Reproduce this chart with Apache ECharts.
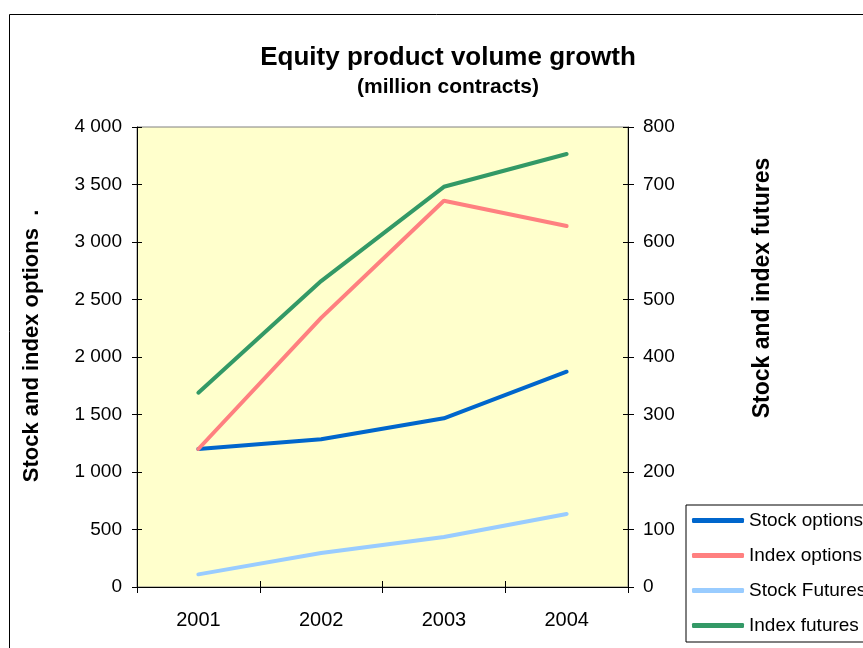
<!DOCTYPE html>
<html>
<head>
<meta charset="utf-8">
<script src="https://cdn.jsdelivr.net/npm/echarts@6/dist/echarts.min.js"></script>
<style>
  html, body { margin: 0; padding: 0; background: #fff; }
  #chart { width: 863px; height: 648px; }
</style>
</head>
<body>
<div id="chart"></div>
<script>
// values
const years = ['2001', '2002', '2003', '2004']
const stockOptions = [1200, 1284, 1467, 1872]
const indexOptions = [1200, 2340, 3359, 3139]
const stockFutures = [22, 59, 87, 127]
const indexFutures = [338, 532, 696, 753]

const fmt = (v) => String(v).replace(/\B(?=(\d{3})+(?!\d))/g, ' ')
const font = 'Liberation Sans, Arial, sans-serif'

const chart = echarts.init(document.getElementById('chart'))

const line = (name, color, data, yAxisIndex) => ({
  name,
  type: 'line',
  yAxisIndex,
  data,
  symbol: 'none',
  lineStyle: { color, width: 4, cap: 'round' },
  itemStyle: { color },
  z: 3
})

// second copy of an axis, only to draw the inner half of the ticks
const tickAxis = (max, interval, position) => ({
  type: 'value',
  min: 0,
  max,
  interval,
  position,
  axisLine: { show: false },
  axisTick: { show: true, inside: true, length: 5, lineStyle: { color: '#000' } },
  axisLabel: { show: false },
  splitLine: { show: false }
})

chart.setOption({
  animation: false,
  backgroundColor: '#fff',
  textStyle: { fontFamily: font },
  title: {
    text: 'Equity product volume growth',
    subtext: '(million contracts)',
    left: 443,
    textAlign: 'center',
    top: 40,
    itemGap: 6,
    textStyle: { fontFamily: font, fontWeight: 'bold', fontSize: 26, color: '#000' },
    subtextStyle: { fontFamily: font, fontWeight: 'bold', fontSize: 21, color: '#000' }
  },
  grid: {
    left: 137,
    top: 127,
    width: 491,
    height: 460,
    show: true,
    backgroundColor: '#ffffcc',
    borderColor: '#808080',
    borderWidth: 1
  },
  legend: {
    left: 686,
    top: 505,
    orient: 'vertical',
    borderColor: '#000',
    borderWidth: 1,
    padding: [6, 40, 7, 6],
    itemGap: 16,
    itemWidth: 52,
    itemHeight: 5,
    icon: 'roundRect',
    textStyle: { fontFamily: font, fontSize: 19, color: '#000' },
    data: ['Stock options', 'Index options', 'Stock Futures', 'Index futures']
  },
  xAxis: [{
    type: 'category',
    data: years,
    boundaryGap: true,
    axisLine: { lineStyle: { color: '#000', width: 1 } },
    axisTick: { show: true, length: 6, lineStyle: { color: '#000' } },
    axisLabel: { margin: 23, fontSize: 20, color: '#000', fontFamily: font },
    splitLine: { show: false }
  }, {
    type: 'category',
    data: years,
    position: 'bottom',
    boundaryGap: true,
    axisLine: { show: false },
    axisTick: { show: true, inside: true, length: 6, lineStyle: { color: '#000' } },
    axisLabel: { show: false },
    splitLine: { show: false }
  }],
  yAxis: [{
    type: 'value',
    min: 0,
    max: 4000,
    interval: 500,
    position: 'left',
    axisLine: { show: true, lineStyle: { color: '#000' } },
    axisTick: { show: true, length: 5, lineStyle: { color: '#000' } },
    axisLabel: { margin: 15, fontSize: 19, color: '#000', fontFamily: font, formatter: fmt },
    splitLine: { show: false }
  }, {
    type: 'value',
    min: 0,
    max: 800,
    interval: 100,
    position: 'right',
    axisLine: { show: true, lineStyle: { color: '#000' } },
    axisTick: { show: true, length: 6, lineStyle: { color: '#000' } },
    axisLabel: { margin: 15, fontSize: 19, color: '#000', fontFamily: font },
    splitLine: { show: false }
  }, tickAxis(4000, 500, 'left'), tickAxis(800, 100, 'right')],
  graphic: [{
    type: 'rect',
    shape: { x: 9.5, y: 14.5, width: 900, height: 700 },
    style: { fill: 'none', stroke: '#000', lineWidth: 1 },
    silent: true
  }, {
    type: 'text',
    x: 32,
    y: 346,
    rotation: Math.PI / 2,
    style: {
      text: 'Stock and index options  .',
      font: 'bold 22px ' + font,
      fill: '#000',
      align: 'center',
      verticalAlign: 'middle'
    },
    silent: true
  }, {
    type: 'text',
    x: 763,
    y: 288,
    rotation: Math.PI / 2,
    style: {
      text: 'Stock and index futures',
      font: 'bold 23px ' + font,
      fill: '#000',
      align: 'center',
      verticalAlign: 'middle'
    },
    silent: true
  }],
  series: [
    line('Stock options', '#0066cc', stockOptions, 0),
    line('Index options', '#ff8080', indexOptions, 0),
    line('Stock Futures', '#99ccff', stockFutures, 1),
    line('Index futures', '#339966', indexFutures, 1)
  ]
})
</script>
</body>
</html>
